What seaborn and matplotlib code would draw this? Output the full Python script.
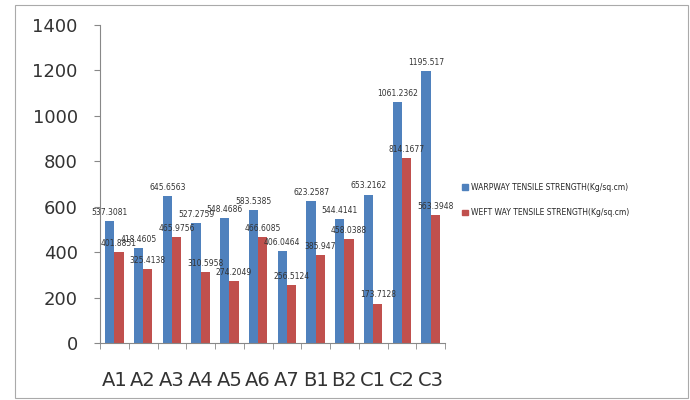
import pandas as pd
import numpy as np
import seaborn as sns
from matplotlib import pyplot as plt
from matplotlib.patches import Rectangle

samples = ['A1', 'A2', 'A3', 'A4', 'A5', 'A6', 'A7', 'B1', 'B2', 'C1', 'C2', 'C3']
warp = [537.3081, 418.4605, 645.6563, 527.2759, 548.4686, 583.5385,
        406.0464, 623.2587, 544.4141, 653.2162, 1061.2362, 1195.517]
weft = [401.8851, 325.4138, 465.9756, 310.5958, 274.2049, 466.6085,
        256.5124, 385.9470, 458.0388, 173.7128, 814.1677, 563.3948]
warp_name = 'WARPWAY TENSILE STRENGTH(Kg/sq.cm)'
weft_name = 'WEFT WAY TENSILE STRENGTH(Kg/sq.cm)'

df = pd.DataFrame({'sample': samples * 2,
                   'value': warp + weft,
                   'series': [warp_name] * len(samples) + [weft_name] * len(samples)})

sns.set_style('white')
plt.rcParams['font.family'] = ['DejaVu Sans']

fig = plt.figure(figsize=(6.9, 4.0), dpi=100)
ax = fig.add_axes([0.145, 0.1425, 0.5, 0.795])

sns.barplot(data=df, x='sample', y='value', hue='series',
            palette=['#4F81BD', '#C0504D'], saturation=1, width=0.64,
            linewidth=0, ax=ax, legend=False)

# data labels, raw numbers like in the excel sheet
for cont, vals in zip(ax.containers, [warp, weft]):
    ax.bar_label(cont, labels=[str(v) for v in vals], fontsize=5.5,
                 color='#333333', padding=3)

ax.set_ylim(0, 1400)
ax.set_yticks(range(0, 1401, 200))
ax.set_xlim(-0.5, len(samples) - 0.5)
ax.set_xlabel('')
ax.set_ylabel('')
ax.tick_params(axis='y', labelsize=13, length=4, color='#888888', labelcolor='#333333',
               left=True, pad=12)
ax.tick_params(axis='x', labelsize=14, length=0, labelcolor='#333333', pad=20)
ax.set_xticks(np.arange(-0.5, len(samples)), minor=True)
ax.tick_params(axis='x', which='minor', length=4, color='#888888', bottom=True)

for s in ['top', 'right']:
    ax.spines[s].set_visible(False)
for s in ['left', 'bottom']:
    ax.spines[s].set_color('#888888')
    ax.spines[s].set_linewidth(0.8)

handles = [Rectangle((0, 0), 1, 1, color='#4F81BD'), Rectangle((0, 0), 1, 1, color='#C0504D')]
fig.legend(handles, [warp_name, weft_name], loc='center left',
           bbox_to_anchor=(0.66, 0.5), fontsize=5.5, frameon=False,
           handlelength=0.7, handleheight=0.7, handletextpad=0.4, labelspacing=2.2)

# chart area border
fig.patches.append(Rectangle((0.022, 0.005), 0.975, 0.983, transform=fig.transFigure,
                             fill=False, edgecolor='#aaaaaa', linewidth=0.8))

fig.savefig('out.png', dpi=100)
